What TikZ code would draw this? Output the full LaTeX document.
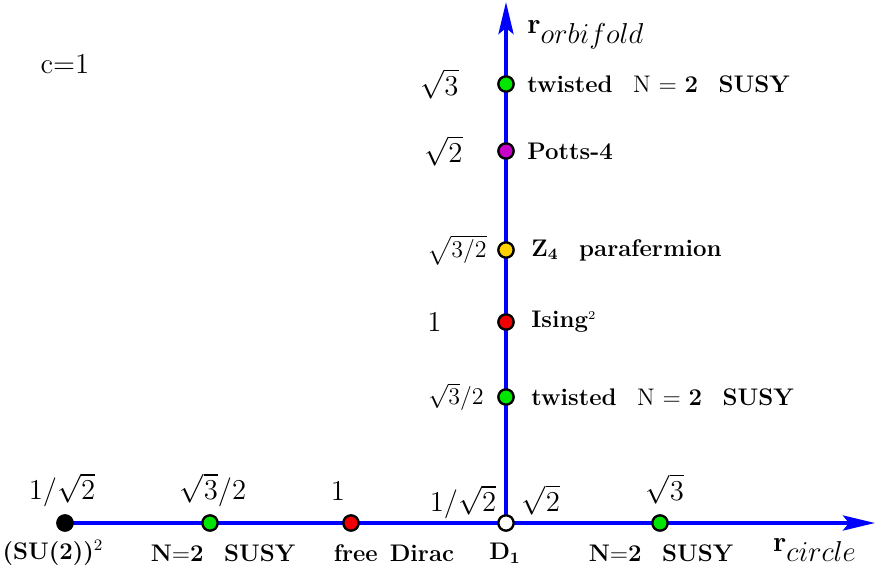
\documentclass[tikz,border=0pt]{standalone}
\usepackage{amsmath}
\usetikzlibrary{arrows.meta}
\definecolor{axblue}{RGB}{0,0,255}
\definecolor{dgreen}{RGB}{0,230,0}
\definecolor{dred}{RGB}{240,0,0}
\definecolor{dmag}{RGB}{200,0,200}
\definecolor{dyel}{RGB}{255,210,0}
\newcommand{\gp}{\hspace{0.85em}}
\begin{document}
\begin{tikzpicture}[x=0.5pt,y=-0.5pt,
  axis/.style={draw=axblue,line width=2pt,-{Stealth[length=16pt,width=7.5pt,inset=3pt]}},
  axline/.style={draw=axblue,line width=2pt},
  pt/.style={circle,draw=black,line width=1.1pt,minimum size=7.6pt,inner sep=0pt,fill=#1},
  lab/.style={font=\fontsize{14.4}{17}\selectfont,inner sep=0pt},
  slab/.style={font=\fontsize{12}{14}\selectfont,inner sep=0pt},
  blab/.style={font=\fontsize{12}{14}\selectfont\bfseries,inner sep=0pt}]
\useasboundingbox (0,0) rectangle (877,573);
% points
\node[pt=black] (su) at (65,523) {};
\node[pt=dgreen] (h2) at (210,523) {};
\node[pt=dred] (h3) at (351,523) {};
\node[pt=white] (d1) at (506,523) {};
\node[pt=dgreen] (h5) at (660,523) {};
\node[pt=dgreen] (v1) at (506,84) {};
\node[pt=dmag] (v2) at (506,151) {};
\node[pt=dyel] (v3) at (506,250) {};
\node[pt=dred] (v4) at (506,322) {};
\node[pt=dgreen] (v5) at (506,397) {};
\coordinate (xend) at (875,523);
\coordinate (yend) at (506,2);
% axes
\draw[axline] (su.center) -- (d1.center);
\draw[axis] (d1.center) -- (xend);
\draw[axis] (d1.center) -- (yend);
% redraw points on top
\node[pt=black] at (su) {};
\node[pt=dgreen] at (h2) {};
\node[pt=dred] at (h3) {};
\node[pt=white] at (d1) {};
\node[pt=dgreen] at (h5) {};
\node[pt=dgreen] at (v1) {};
\node[pt=dmag] at (v2) {};
\node[pt=dyel] at (v3) {};
\node[pt=dred] at (v4) {};
\node[pt=dgreen] at (v5) {};
% title
\node[font=\fontsize{14.4}{17}\selectfont,inner sep=0pt] (c) at (65,64) {c=1};
% axis labels
\node[inner sep=0pt,anchor=west,font=\fontsize{14.4}{17}\selectfont] (ro) at (527,35) {$\mathbf{r}_{\textstyle orbifold}$};
\node[inner sep=0pt,font=\fontsize{14.4}{17}\selectfont] (rc) at (815,550) {$\mathbf{r}_{\textstyle circle}$};
% vertical values
\node[lab,anchor=west] (l1) at (420,84) {$\sqrt{3}$};
\node[lab,anchor=west] (l2) at (424,151) {$\sqrt{2}$};
\node[slab,anchor=west] (l3) at (427,250) {$\sqrt{3/2}$};
\node[lab,anchor=west] (l4) at (427,322) {$1$};
\node[slab,anchor=west] (l5) at (428,397) {$\sqrt{3}/2$};
% vertical names
\node[blab,anchor=west] (n1) at (527,84) {twisted\gp\mdseries N $=$ \bfseries 2\gp SUSY};
\node[blab,anchor=west] (n2) at (527,151) {Potts-4};
\node[blab,anchor=west] (n3) at (531,250) {Z$_{\mathbf{4}}$\gp parafermion};
\node[blab,anchor=west] (n4) at (531,322) {Ising$^{\scriptscriptstyle 2}$};
\node[blab,anchor=west] (n5) at (531,397) {twisted\gp\mdseries N $=$ \bfseries 2\gp SUSY};
% horizontal values
\node[lab] (h1v) at (62,490) {$1/\sqrt{2}$};
\node[lab] (h2v) at (213,490) {$\sqrt{3}/2$};
\node[lab] (h3v) at (338,491) {$1$};
\node[lab] (h4v) at (463,502) {$1/\sqrt{2}$};
\node[lab] (h4w) at (541,500) {$\sqrt{2}$};
\node[lab] (h5v) at (665,489) {$\sqrt{3}$};
% horizontal names
\node[blab] (s1) at (53,553) {(SU(2))$^{\scriptstyle 2}$};
\node[blab] (s2) at (223,553) {N$=$2\gp SUSY};
\node[blab] (s3) at (394,553) {free\enspace Dirac};
\node[blab] (s4) at (505,553) {D$_{\mathbf{1}}$};
\node[blab] (s5) at (661,553) {N$=$2\gp SUSY};
\end{tikzpicture}
\end{document}
